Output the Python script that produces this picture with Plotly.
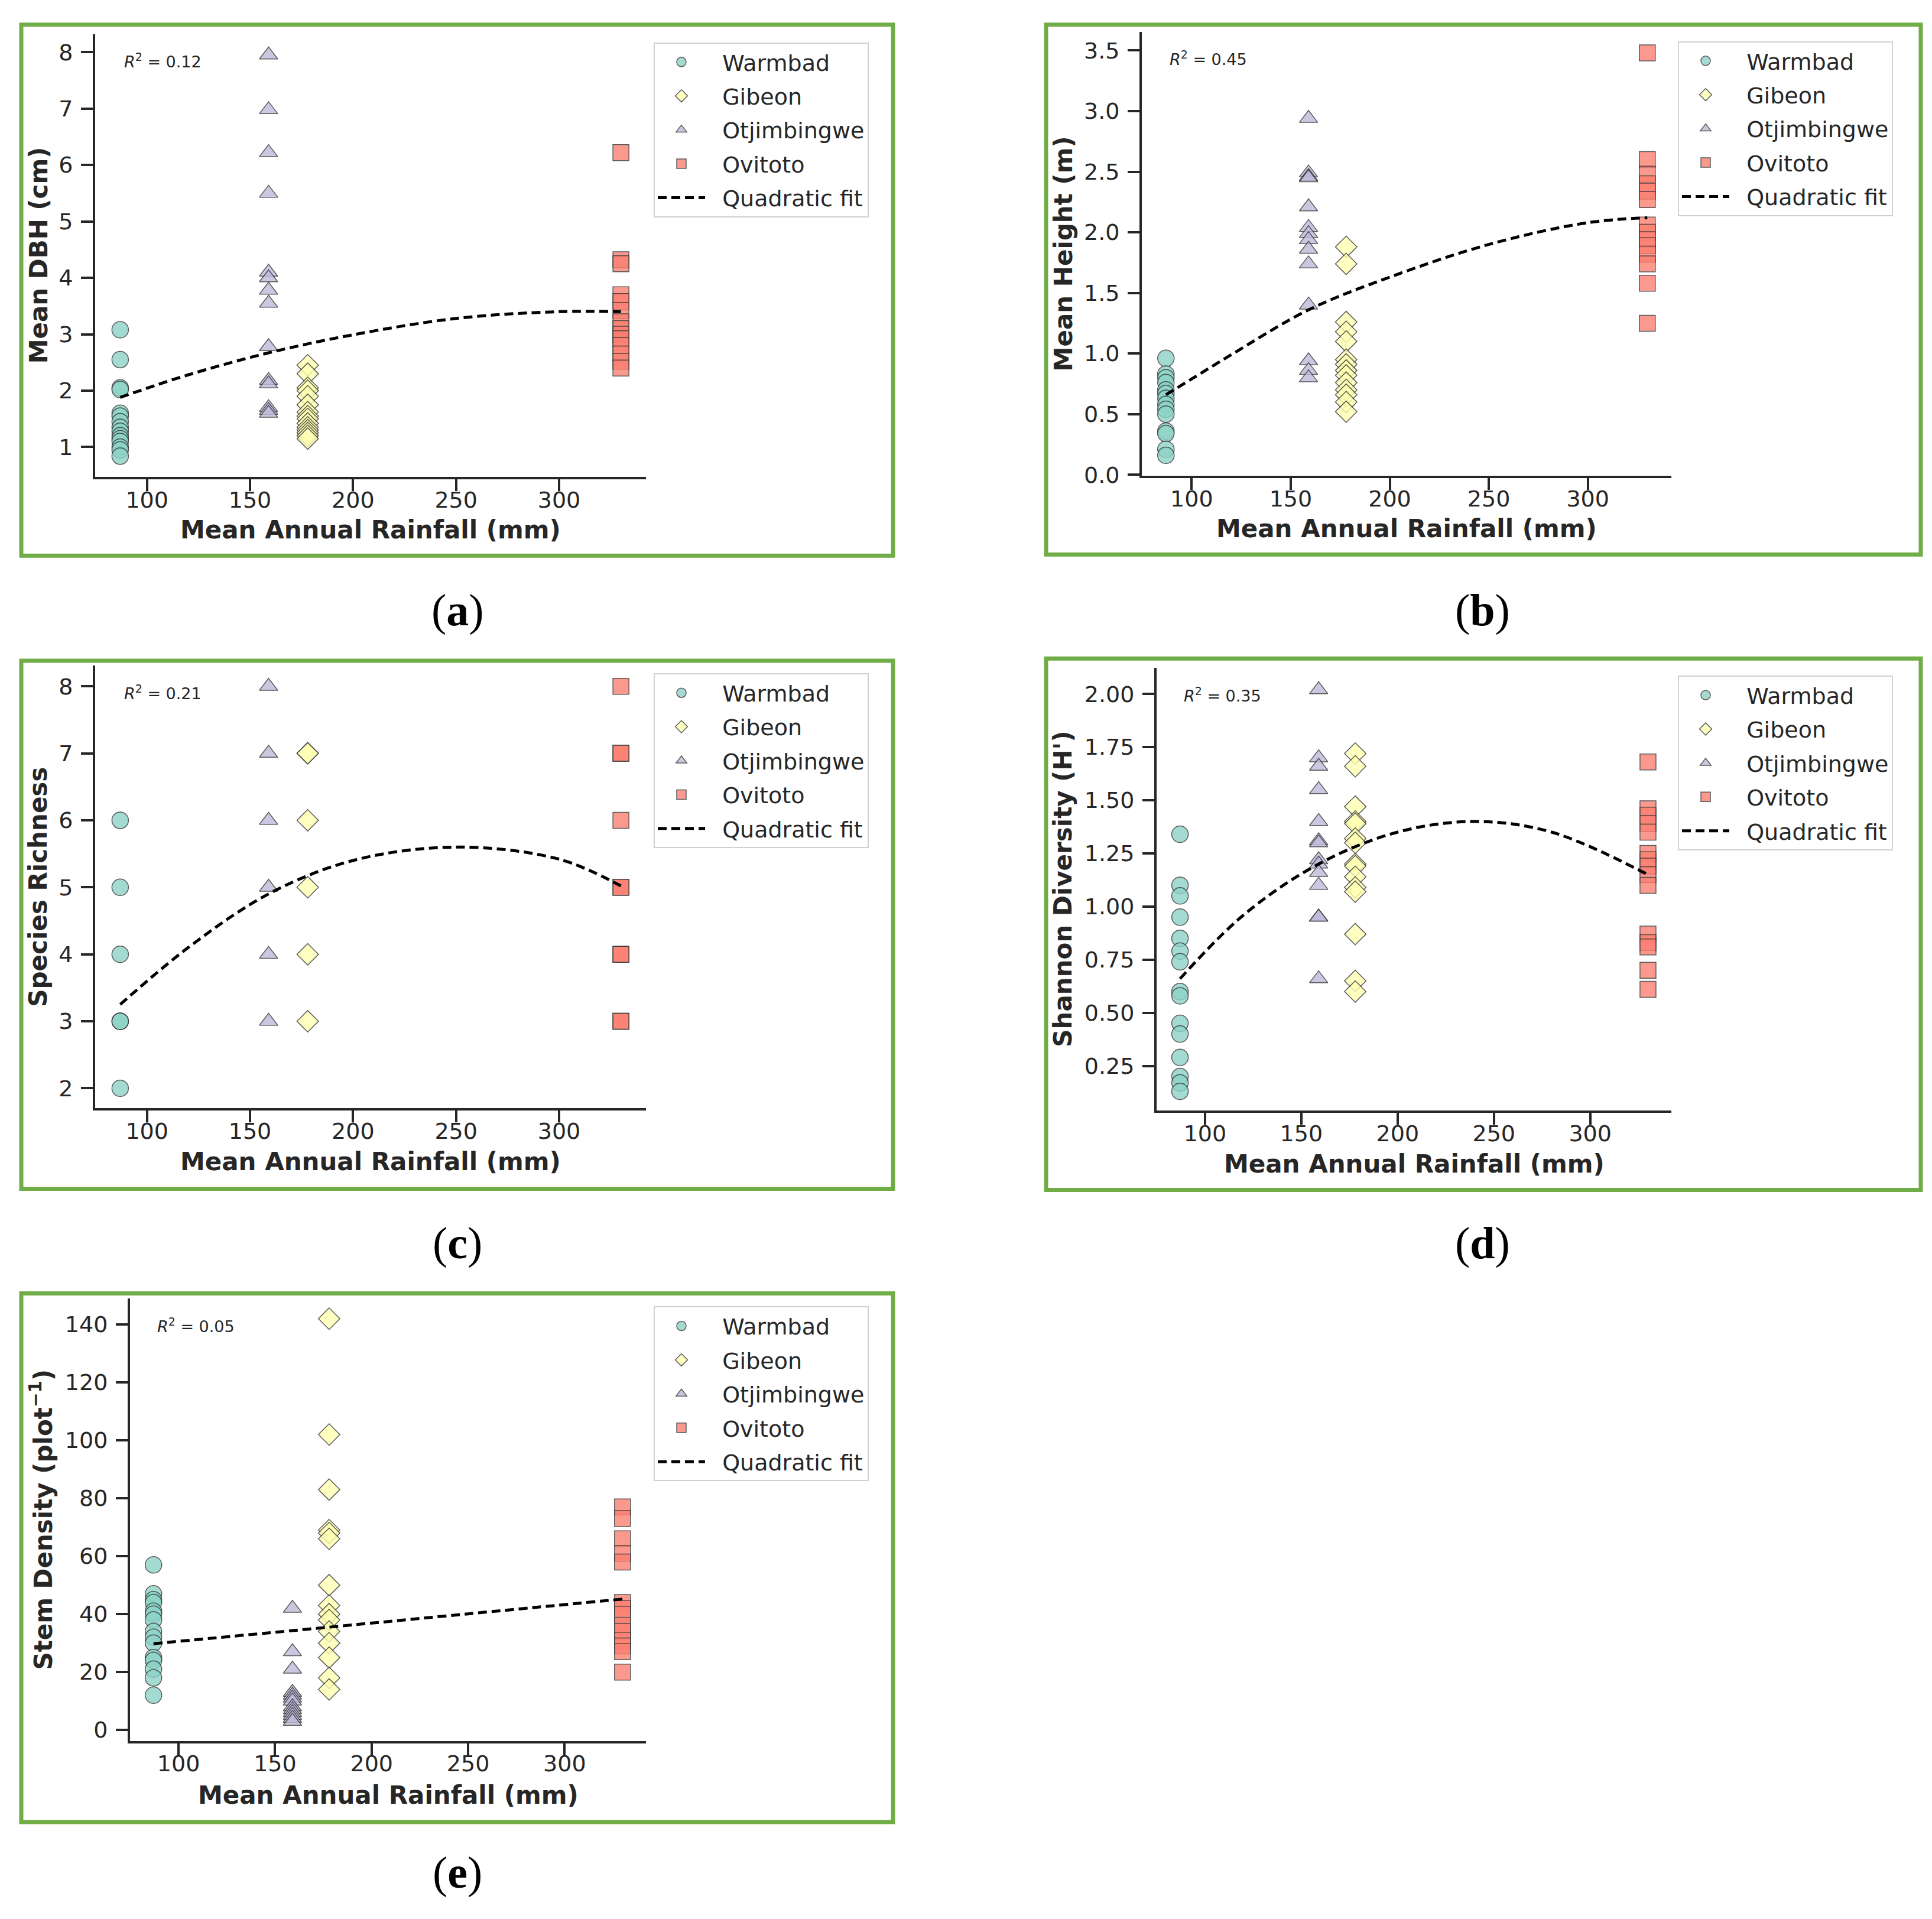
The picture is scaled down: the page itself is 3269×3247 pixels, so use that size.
import plotly.graph_objects as go

W, H = 3269, 3247

sites = ["Warmbad", "Gibeon", "Otjimbingwe", "Ovitoto"]
rainfall = [87, 178, 159, 330]
site_colors = ["#8dd3c7", "#ffffb3", "#bebada", "#fb8072"]
site_symbols = ["circle", "diamond", "triangle-up", "square"]
site_sizes = [28, 28, 27, 27]

# (a) mean DBH (cm)
dbh_warmbad = [3.08, 2.55, 2.05, 2.02, 1.60, 1.55, 1.45, 1.35, 1.28, 1.20, 1.15, 1.10, 1.00, 0.95, 0.84]
dbh_gibeon = [2.45, 2.30, 2.05, 2.00, 1.90, 1.75, 1.62, 1.55, 1.50, 1.42, 1.35, 1.30, 1.25, 1.20, 1.15]
dbh_otjimbingwe = [7.95, 6.98, 6.22, 5.50, 4.10, 4.00, 3.78, 3.55, 2.78, 2.18, 2.12, 1.70, 1.65, 1.60]
dbh_ovitoto = [6.22, 4.32, 4.25, 3.70, 3.58, 3.42, 3.22, 3.10, 3.00, 2.92, 2.80, 2.65, 2.52, 2.40]

# (b) mean height (m)
ht_warmbad = [0.96, 0.83, 0.80, 0.76, 0.70, 0.67, 0.63, 0.58, 0.54, 0.50, 0.36, 0.34, 0.21, 0.16]
ht_gibeon = [1.88, 1.74, 1.26, 1.18, 1.10, 0.95, 0.91, 0.86, 0.82, 0.76, 0.70, 0.66, 0.60, 0.52]
ht_otjimbingwe = [2.94, 2.49, 2.46, 2.45, 2.21, 2.04, 1.99, 1.94, 1.86, 1.74, 1.40, 0.94, 0.86, 0.80]
ht_ovitoto = [3.48, 2.60, 2.48, 2.40, 2.34, 2.27, 2.06, 2.00, 1.94, 1.89, 1.82, 1.74, 1.58, 1.25]

# (c) species richness
rich_warmbad = [6, 5, 4, 3, 3, 2]
rich_gibeon = [7, 7, 6, 5, 4, 3]
rich_otjimbingwe = [8, 7, 6, 5, 4, 3]
rich_ovitoto = [8, 7, 7, 6, 5, 5, 4, 4, 3, 3]

# (d) Shannon diversity
sh_warmbad = [1.34, 1.10, 1.05, 0.95, 0.85, 0.79, 0.74, 0.60, 0.58, 0.45, 0.40, 0.29, 0.20, 0.17, 0.13]
sh_gibeon = [1.72, 1.66, 1.47, 1.40, 1.39, 1.32, 1.30, 1.20, 1.19, 1.14, 1.09, 1.07, 0.87, 0.65, 0.60]
sh_otjimbingwe = [2.02, 1.70, 1.66, 1.55, 1.40, 1.31, 1.30, 1.22, 1.20, 1.16, 1.10, 0.95, 0.95, 0.66]
sh_ovitoto = [1.68, 1.46, 1.43, 1.39, 1.35, 1.25, 1.22, 1.19, 1.15, 1.10, 0.87, 0.83, 0.81, 0.70, 0.61]

# (e) stem density (plot^-1)
sd_warmbad = [57, 47, 45, 44, 41, 40, 38, 34, 32, 30, 25, 24, 21, 18, 12]
sd_gibeon = [142, 102, 83, 69, 68, 66, 50, 43, 40, 38, 34, 30, 25, 18, 14]
sd_otjimbingwe = [42, 27, 21, 13, 12, 11, 10, 8, 7, 6, 5, 4, 3]
sd_ovitoto = [77, 73, 66, 61, 58, 44, 42, 40, 36, 34, 31, 29, 27, 20]

# quadratic fit curves
fit_x_a = [87, 120, 159, 200, 250, 300, 330]
fit_y_a = [1.88, 2.28, 2.67, 2.99, 3.28, 3.40, 3.40]
fit_x_b = [87, 100, 120, 159, 200, 250, 300, 330]
fit_y_b = [0.66, 0.79, 0.99, 1.36, 1.63, 1.90, 2.08, 2.12]
fit_x_c = [87, 120, 159, 200, 250, 300, 330]
fit_y_c = [3.25, 4.10, 4.90, 5.40, 5.60, 5.42, 5.02]
fit_x_d = [87, 120, 159, 200, 240, 280, 330]
fit_y_d = [0.66, 0.96, 1.20, 1.35, 1.40, 1.35, 1.15]
fit_x_e = [87, 159, 200, 250, 330]
fit_y_e = [29.8, 34.3, 36.9, 40.1, 45.2]

r2_labels = ["0.12", "0.45", "0.21", "0.35", "0.05"]
y_titles = ["Mean DBH (cm)", "Mean Height (m)", "Species Richness",
            "Shannon Diversity (H')", "Stem Density (plot<sup>\u22121</sup>)"]
panel_letters = ["a", "b", "c", "d", "e"]

panels = [
    dict(data=[dbh_warmbad, dbh_gibeon, dbh_otjimbingwe, dbh_ovitoto], fx=fit_x_a, fy=fit_y_a,
         yrange=[0.47, 8.32], dtick=1, fmt="d", tick0=1,
         dom=(153, 1085, 50, 804), box=(28, 1503, 34, 938), leg=(1098, 64),
         ytx=57, xty=894, lab=(766, 1031)),
    dict(data=[ht_warmbad, ht_gibeon, ht_otjimbingwe, ht_ovitoto], fx=fit_x_b, fy=fit_y_b,
         yrange=[-0.009, 3.655], dtick=0.5, fmt=".1f", tick0=0,
         dom=(1924, 2820, 46, 802), box=(1762, 3242, 34, 936), leg=(2831, 62),
         ytx=1791, xty=892, lab=(2500, 1031)),
    dict(data=[rich_warmbad, rich_gibeon, rich_otjimbingwe, rich_ovitoto], fx=fit_x_c, fy=fit_y_c,
         yrange=[1.70, 8.31], dtick=1, fmt="d", tick0=2,
         dom=(153, 1085, 1125, 1879), box=(28, 1503, 1117, 2016), leg=(1098, 1138),
         ytx=57, xty=1970, lab=(766, 2108)),
    dict(data=[sh_warmbad, sh_gibeon, sh_otjimbingwe, sh_ovitoto], fx=fit_x_d, fy=fit_y_d,
         yrange=[0.039, 2.123], dtick=0.25, fmt=".2f", tick0=0.25,
         dom=(1949, 2820, 1129, 1883), box=(1762, 3242, 1113, 2018), leg=(2831, 1142),
         ytx=1791, xty=1974, lab=(2500, 2108)),
    dict(data=[sd_warmbad, sd_gibeon, sd_otjimbingwe, sd_ovitoto], fx=fit_x_e, fy=fit_y_e,
         yrange=[-3.8, 148.9], dtick=20, fmt="d", tick0=0,
         dom=(212, 1085, 2203, 2956), box=(28, 1503, 2194, 3094), leg=(1098, 2216),
         ytx=63, xty=3048, lab=(766, 3180)),
]

INK = "#262626"
PAD = "\u00a0\u00a0"  # keeps legend text clear of the shorter line sample
TICK_FONT = dict(family="DejaVu Sans", size=38, color=INK)
fig = go.Figure()
layout = dict(width=W, height=H, margin=dict(l=0, r=0, t=0, b=0),
              paper_bgcolor="white", plot_bgcolor="white", showlegend=True)
annotations = []
shapes = []

for i, p in enumerate(panels):
    n = "" if i == 0 else str(i + 1)
    xa, ya = "x" + n, "y" + n
    leg = "legend" + n
    x0, x1, y0, y1 = p["dom"]
    for s, vals in enumerate(p["data"]):
        fig.add_trace(go.Scatter(
            x=[rainfall[s]] * len(vals), y=vals, mode="markers", name=PAD + sites[s],
            xaxis=xa, yaxis=ya, legend=leg, legendgroup=f"{leg}_{s}",
            marker=dict(symbol=site_symbols[s], size=site_sizes[s], color=site_colors[s],
                        opacity=0.8, line=dict(color="#333333", width=1.5))))
    fig.add_trace(go.Scatter(
        x=p["fx"], y=p["fy"], mode="lines", name=PAD + "Quadratic fit", xaxis=xa, yaxis=ya,
        legend=leg, legendgroup=f"{leg}_fit",
        line=dict(color="black", width=5, dash="15px,8px", shape="spline")))

    axis_common = dict(showline=True, linecolor=INK, linewidth=4, ticks="outside",
                       ticklen=20, tickwidth=4, tickcolor=INK, showgrid=False,
                       zeroline=False, tickfont=TICK_FONT)
    layout["xaxis" + n] = dict(axis_common, domain=[x0 / W, x1 / W], range=[74.85, 342.15],
                               tickmode="linear", tick0=100, dtick=50, anchor=ya,
                               ticklabelstandoff=-18)
    layout["yaxis" + n] = dict(axis_common, domain=[1 - y1 / H, 1 - y0 / H], range=p["yrange"],
                               tickmode="linear", tick0=p["tick0"], dtick=p["dtick"],
                               tickformat=p["fmt"], anchor=xa, ticklabelstandoff=6)
    lx, ly = p["leg"]
    layout[leg] = dict(x=lx / W, y=1 - ly / H, xanchor="left", yanchor="top",
                       bgcolor="white", bordercolor="#d0d0d0", borderwidth=2,
                       font=dict(family="DejaVu Sans", size=38, color=INK),
                       itemwidth=80, traceorder="grouped", tracegroupgap=5)

    annotations.append(dict(xref=xa + " domain", yref=ya + " domain", x=0.05, y=0.94,
                            xanchor="left", yanchor="middle", showarrow=False,
                            text="<i>R</i><sup>2</sup> = " + r2_labels[i],
                            font=dict(family="DejaVu Sans", size=27, color=INK)))
    annotations.append(dict(xref="paper", yref="paper", x=p["ytx"] / W,
                            y=1 - (y0 + y1) / 2 / H, xanchor="center", yanchor="middle",
                            textangle=-90, showarrow=False,
                            text="<b>" + y_titles[i] + "</b>",
                            font=dict(family="DejaVu Sans", size=42, color=INK)))
    annotations.append(dict(xref="paper", yref="paper", x=(x0 + x1) / 2 / W,
                            y=1 - p["xty"] / H, xanchor="center", yanchor="middle",
                            showarrow=False, text="<b>Mean Annual Rainfall (mm)</b>",
                            font=dict(family="DejaVu Sans", size=42, color=INK)))
    annotations.append(dict(xref="paper", yref="paper", x=p["lab"][0] / W,
                            y=1 - p["lab"][1] / H, xanchor="center", yanchor="middle",
                            showarrow=False, text="(<b>" + panel_letters[i] + "</b>)",
                            font=dict(family="Liberation Serif", size=76, color="black")))
    bx0, bx1, by0, by1 = p["box"]
    shapes.append(dict(type="rect", xref="paper", yref="paper", x0=bx0 / W, x1=bx1 / W,
                       y0=1 - by1 / H, y1=1 - by0 / H, line=dict(color="#70AD47", width=7)))

layout["annotations"] = annotations
layout["shapes"] = shapes
fig.update_layout(**layout)
fig.write_html("out.html")
